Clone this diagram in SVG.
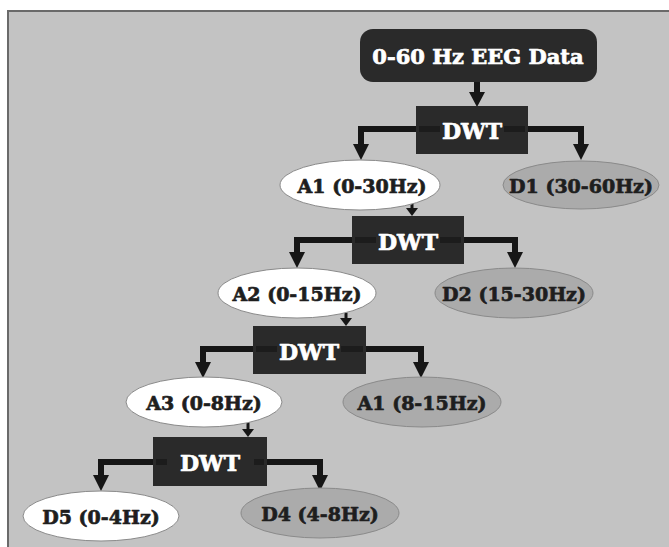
<svg xmlns="http://www.w3.org/2000/svg" width="669" height="547" viewBox="0 0 669 547">
<defs>
<style>
.panel{fill:#c3c3c3;stroke:#6a6a6a;stroke-width:2}
.box{fill:#2a2a2a}
.lbl{font-family:"DejaVu Serif","Liberation Serif",serif;font-weight:bold;text-anchor:middle;dominant-baseline:central;stroke-width:0.7;stroke-linejoin:round}
.w{fill:#ffffff;stroke:#ffffff}
.d{fill:#1e1e1e;stroke:#1e1e1e}
.ea{fill:#ffffff;stroke:#8a8a8a;stroke-width:1}
.ed{fill:#ababab;stroke:#8a8a8a;stroke-width:1}
.thick{fill:none;stroke:#161616;stroke-width:6;stroke-linejoin:miter}
.inner{fill:none;stroke:#1c1c1c;stroke-width:6}
.thin{fill:none;stroke:#161616;stroke-width:3}
.head{fill:#161616}
</style>
</defs>
<rect x="0" y="0" width="669" height="547" fill="#ffffff"/>
<rect class="panel" x="8" y="11" width="670" height="545"/>

<g id="connectors">
<path class="thick" d="M477 82 V94"/>
<polygon class="head" points="469,92 485,92 477,107"/>
<path class="thick" d="M440 129 H361 V146"/>
<polygon class="head" points="353,144 369,144 361,160"/>
<path class="thick" d="M505 129 H581 V146"/>
<polygon class="head" points="573,144 589,144 581,160"/>
<path class="thin" d="M412 200 V210"/>
<polygon class="head" points="406,208 418,208 412,216"/>
<path class="thick" d="M376 240 H297 V254"/>
<polygon class="head" points="289,252 305,252 297,268"/>
<path class="thick" d="M448 240 H515 V254"/>
<polygon class="head" points="507,252 523,252 515,268"/>
<path class="thin" d="M346 312 V320"/>
<polygon class="head" points="340,318 352,318 346,326"/>
<path class="thick" d="M277 349 H203 V364"/>
<polygon class="head" points="195,362 211,362 203,378"/>
<path class="thick" d="M342 349 H421 V364"/>
<polygon class="head" points="413,362 429,362 421,378"/>
<path class="thin" d="M248 422 V431"/>
<polygon class="head" points="242,429 254,429 248,437"/>
<path class="thick" d="M167 462 H101 V477"/>
<polygon class="head" points="93,475 109,475 101,491"/>
<path class="thick" d="M253 462 H320 V477"/>
<polygon class="head" points="312,475 328,475 320,491"/>
</g>

<g id="eeg">
<rect class="box" x="360" y="29" width="237" height="53" rx="13"/>
<text class="lbl w" x="478" y="56" font-size="21">0-60 Hz EEG Data</text>
</g>

<g id="dwt1">
<rect class="box" x="416" y="106" width="112" height="48"/>
<path class="inner" d="M419 129 H440 M504 129 H525"/>
<text class="lbl w" x="472" y="131" font-size="22">DWT</text>
</g>
<g id="a1">
<ellipse class="ea" cx="360" cy="185" rx="80" ry="25"/>
<text class="lbl d" x="362" y="186" font-size="19">A1 (0-30Hz)</text>
</g>
<g id="d1">
<ellipse class="ed" cx="581" cy="185" rx="78" ry="24"/>
<text class="lbl d" x="581" y="186" font-size="19">D1 (30-60Hz)</text>
</g>

<g id="dwt2">
<rect class="box" x="352" y="216" width="112" height="48"/>
<path class="inner" d="M355 240 H376 M440 240 H461"/>
<text class="lbl w" x="408" y="242" font-size="22">DWT</text>
</g>
<g id="a2">
<ellipse class="ea" cx="297" cy="293" rx="79" ry="25"/>
<text class="lbl d" x="297" y="294" font-size="19">A2 (0-15Hz)</text>
</g>
<g id="d2">
<ellipse class="ed" cx="514" cy="293" rx="79" ry="25"/>
<text class="lbl d" x="514" y="294" font-size="19">D2 (15-30Hz)</text>
</g>

<g id="dwt3">
<rect class="box" x="253" y="326" width="113" height="48"/>
<path class="inner" d="M256 349 H277 M341 349 H363"/>
<text class="lbl w" x="309" y="352" font-size="22">DWT</text>
</g>
<g id="a3">
<ellipse class="ea" cx="204" cy="402" rx="78" ry="25"/>
<text class="lbl d" x="204" y="403" font-size="19">A3 (0-8Hz)</text>
</g>
<g id="a1b">
<ellipse class="ed" cx="422" cy="402" rx="79" ry="25"/>
<text class="lbl d" x="422" y="403" font-size="19">A1 (8-15Hz)</text>
</g>

<g id="dwt4">
<rect class="box" x="153" y="437" width="114" height="49"/>
<path class="inner" d="M156 462 H167 M254 462 H264"/>
<text class="lbl w" x="210" y="463" font-size="22">DWT</text>
</g>
<g id="d5">
<ellipse class="ea" cx="101" cy="516" rx="78" ry="25"/>
<text class="lbl d" x="101" y="517" font-size="19">D5 (0-4Hz)</text>
</g>
<g id="d4">
<ellipse class="ed" cx="320" cy="513" rx="79" ry="25"/>
<text class="lbl d" x="320" y="514" font-size="19">D4 (4-8Hz)</text>
</g>
</svg>
